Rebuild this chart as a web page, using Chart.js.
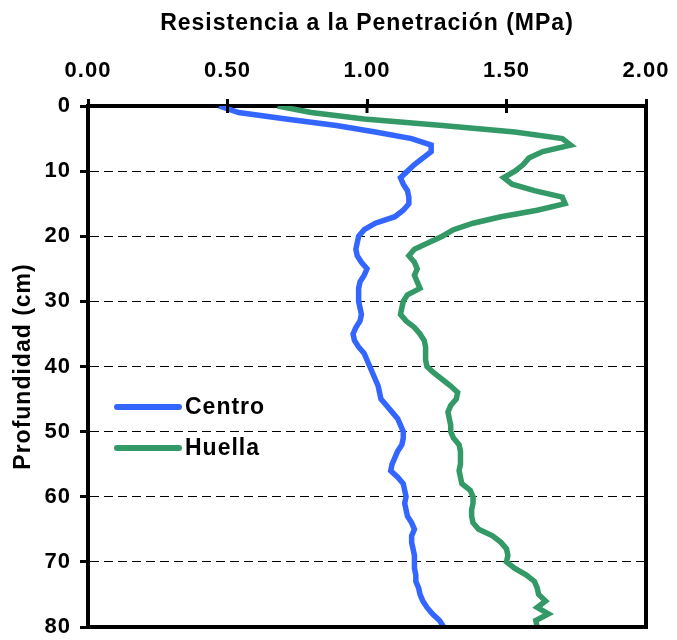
<!DOCTYPE html>
<html>
<head>
<meta charset="utf-8">
<script src="https://cdn.jsdelivr.net/npm/chart.js@4/dist/chart.umd.min.js"></script>
<style>
  html, body { margin: 0; padding: 0; background: #fff; }
  #wrap { width: 677px; height: 640px; }
</style>
</head>
<body>
<div id="wrap"><canvas id="chart"></canvas></div>
<script>
// profundidad en cm (eje vertical, 0 arriba)
const depth = [
  0, 1, 2, 3, 4, 5, 6, 7, 8, 9,
  10, 11, 12, 13, 14, 15, 16, 17, 18, 19,
  20, 21, 22, 23, 24, 25, 26, 27, 28, 29,
  30, 31, 32, 33, 34, 35, 36, 37, 38, 39,
  40, 41, 42, 43, 44, 45, 46, 47, 48, 49,
  50, 51, 52, 53, 54, 55, 56, 57, 58, 59,
  60, 61, 62, 63, 64, 65, 66, 67, 68, 69,
  70, 71, 72, 73, 74, 75, 76, 77, 78, 79,
  80
]

// resistencia (MPa) - Centro
const centro = [
  0.47, 0.54, 0.71, 0.89, 1.03, 1.16, 1.23, 1.23, 1.20, 1.17,
  1.145, 1.12, 1.13, 1.145, 1.15, 1.15, 1.13, 1.10, 1.03, 0.99,
  0.97, 0.965, 0.96, 0.965, 0.98, 1.00, 0.99, 0.975, 0.97, 0.97,
  0.97, 0.975, 0.98, 0.975, 0.96, 0.95, 0.955, 0.97, 0.99, 1.00,
  1.01, 1.02, 1.03, 1.04, 1.045, 1.05, 1.07, 1.09, 1.11, 1.12,
  1.13, 1.13, 1.125, 1.11, 1.10, 1.09, 1.085, 1.11, 1.13, 1.135,
  1.14, 1.135, 1.14, 1.145, 1.16, 1.17, 1.16, 1.16, 1.165, 1.17,
  1.17, 1.17, 1.175, 1.175, 1.185, 1.19, 1.20, 1.215, 1.235, 1.26,
  1.275
]

// resistencia (MPa) - Huella
const huella = [
  0.68, 0.80, 0.99, 1.27, 1.53, 1.70, 1.73, 1.63, 1.58, 1.56,
  1.53, 1.49, 1.52, 1.60, 1.70, 1.71, 1.61, 1.48, 1.38, 1.31,
  1.27, 1.22, 1.17, 1.15, 1.17, 1.18, 1.17, 1.18, 1.19, 1.145,
  1.13, 1.125, 1.12, 1.14, 1.17, 1.19, 1.205, 1.21, 1.21, 1.21,
  1.215, 1.24, 1.27, 1.30, 1.325, 1.32, 1.30, 1.29, 1.295, 1.30,
  1.30, 1.31, 1.33, 1.335, 1.335, 1.335, 1.33, 1.335, 1.34, 1.37,
  1.38, 1.38, 1.375, 1.375, 1.38, 1.40, 1.45, 1.48, 1.50, 1.505,
  1.50, 1.53, 1.57, 1.60, 1.61, 1.615, 1.64, 1.61, 1.65, 1.605,
  1.61
]

const seriesNames = ['Centro', 'Huella']
const seriesColors = ['#3366FF', '#339966']

const FONT = 'Liberation Sans, Arial, sans-serif'

function toPoints(values) {
  return values.map((v, i) => ({x: v, y: depth[i]}))
}

// the original text is a bit spaced out
const spacing = {
  id: 'spacing',
  beforeUpdate(chart) { chart.ctx.letterSpacing = '1px' },
  beforeDraw(chart) { chart.ctx.letterSpacing = '1px' }
}

// right/bottom frame, inner ticks on the top axis and the legend inside the plot
const frame = {
  id: 'frame',
  afterDraw(chart) {
    const {ctx, chartArea: a, scales} = chart
    ctx.save()
    ctx.strokeStyle = '#000'
    ctx.lineWidth = 4
    ctx.beginPath()
    ctx.moveTo(a.right, a.top - 2)
    ctx.lineTo(a.right, a.bottom + 2)
    ctx.moveTo(a.left - 2, a.bottom)
    ctx.lineTo(a.right + 2, a.bottom)
    ctx.stroke()

    ctx.lineWidth = 3
    ctx.beginPath()
    scales.x.ticks.forEach(t => {
      const px = scales.x.getPixelForValue(t.value)
      ctx.moveTo(px, a.top)
      ctx.lineTo(px, a.top + 7)
    })
    ctx.stroke()

    chart.data.datasets.forEach((ds, i) => {
      const y = 407 + i * 41
      ctx.strokeStyle = ds.borderColor
      ctx.lineWidth = 6
      ctx.lineCap = 'round'
      ctx.beginPath()
      ctx.moveTo(117, y)
      ctx.lineTo(179, y)
      ctx.stroke()
      ctx.fillStyle = '#000'
      ctx.font = 'bold 23px ' + FONT
      ctx.textBaseline = 'middle'
      ctx.textAlign = 'left'
      ctx.fillText(ds.label, 185, y + 1)
    })
    ctx.restore()
  }
}

new Chart(document.getElementById('chart'), {
  type: 'scatter',
  data: {
    datasets: [
      {
        label: seriesNames[0],
        data: toPoints(centro),
        borderColor: seriesColors[0],
        backgroundColor: seriesColors[0],
        borderWidth: 5.5,
        showLine: true,
        pointRadius: 0,
        tension: 0
      },
      {
        label: seriesNames[1],
        data: toPoints(huella),
        borderColor: seriesColors[1],
        backgroundColor: seriesColors[1],
        borderWidth: 5.5,
        showLine: true,
        pointRadius: 0,
        tension: 0
      }
    ]
  },
  options: {
    responsive: true,
    maintainAspectRatio: false,
    animation: false,
    layout: { padding: { left: 0, top: 0, right: 31, bottom: 13 } },
    plugins: {
      legend: { display: false },
      tooltip: { enabled: false }
    },
    scales: {
      x: {
        type: 'linear',
        position: 'top',
        min: 0,
        max: 2,
        afterFit(scale) {
          scale.height = 106
          scale.paddingLeft = 0
          scale.paddingRight = 0
        },
        ticks: {
          stepSize: 0.5,
          padding: 15,
          color: '#000',
          font: { family: FONT, size: 22, weight: 'bold' },
          callback: v => v.toFixed(2)
        },
        grid: {
          drawOnChartArea: false,
          drawTicks: true,
          tickLength: 7,
          tickWidth: 3,
          tickColor: '#000'
        },
        border: { display: true, color: '#000', width: 4 },
        title: {
          display: true,
          text: 'Resistencia a la Penetración (MPa)',
          color: '#000',
          font: { family: FONT, size: 23, weight: 'bold' },
          padding: { top: 10, bottom: 0 }
        }
      },
      y: {
        type: 'linear',
        reverse: true,
        min: 0,
        max: 80,
        afterFit(scale) {
          scale.width = 88
          scale.paddingTop = 0
          scale.paddingBottom = 0
        },
        ticks: {
          stepSize: 10,
          padding: 9,
          color: '#000',
          font: { family: FONT, size: 22, weight: 'bold' }
        },
        grid: {
          drawOnChartArea: true,
          color: ctx => (ctx.tick && (ctx.tick.value === 0 || ctx.tick.value === 80)) ? 'rgba(0,0,0,0)' : '#000',
          lineWidth: 1,
          tickLength: 8,
          tickWidth: 3,
          tickColor: '#000'
        },
        border: { display: true, color: '#000', width: 4, dash: [9, 5] },
        title: {
          display: true,
          text: 'Profundidad (cm)',
          color: '#000',
          font: { family: FONT, size: 23, weight: 'bold' },
          padding: { top: 10, bottom: 0 }
        }
      }
    }
  },
  plugins: [spacing, frame]
})
</script>
</body>
</html>
